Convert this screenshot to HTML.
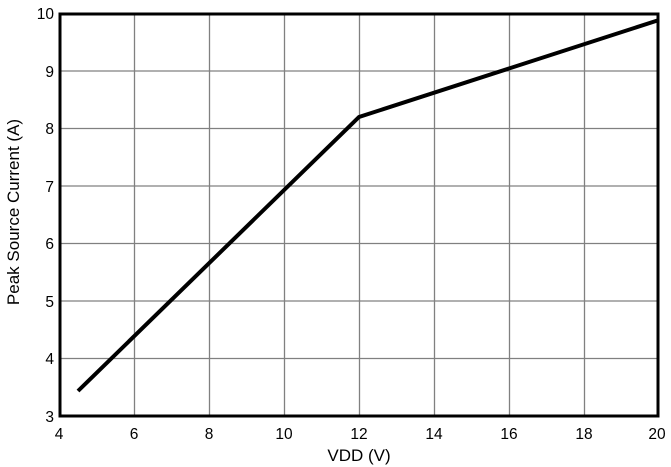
<!DOCTYPE html>
<html><head><style>body{margin:0;background:#fff}svg{display:block}</style></head><body>
<svg width="671" height="467" xmlns="http://www.w3.org/2000/svg" font-family="Liberation Sans, Arial, sans-serif" font-size="15.5">
<rect width="671" height="467" fill="#fff"/>
<g stroke="#808080" stroke-width="1.3">
<line x1="134.5" y1="13" x2="134.5" y2="416"/><line x1="209.5" y1="13" x2="209.5" y2="416"/>
<line x1="284.5" y1="13" x2="284.5" y2="416"/><line x1="359.5" y1="13" x2="359.5" y2="416"/>
<line x1="434.5" y1="13" x2="434.5" y2="416"/><line x1="509.5" y1="13" x2="509.5" y2="416"/>
<line x1="584.5" y1="13" x2="584.5" y2="416"/>
<line x1="59" y1="71" x2="659" y2="71"/><line x1="59" y1="128.5" x2="659" y2="128.5"/>
<line x1="59" y1="186" x2="659" y2="186"/><line x1="59" y1="243.5" x2="659" y2="243.5"/>
<line x1="59" y1="301" x2="659" y2="301"/><line x1="59" y1="358.5" x2="659" y2="358.5"/>
</g>
<rect x="60" y="14" width="598" height="402" fill="none" stroke="#000" stroke-width="3"/>
<polyline points="78,391 359,117 659,20" fill="none" stroke="#000" stroke-width="4" stroke-linejoin="miter"/>
<g text-anchor="end">
<text x="54" y="19">10</text><text x="54" y="77">9</text><text x="54" y="134">8</text>
<text x="54" y="192">7</text><text x="54" y="249">6</text><text x="54" y="307">5</text>
<text x="54" y="364">4</text><text x="54" y="422">3</text>
</g>
<g text-anchor="middle">
<text x="59" y="439">4</text><text x="134" y="439">6</text><text x="209" y="439">8</text>
<text x="284" y="439">10</text><text x="359" y="439">12</text><text x="434" y="439">14</text>
<text x="509" y="439">16</text><text x="584" y="439">18</text><text x="657" y="439">20</text>
<text x="359" y="461" font-size="17">VDD (V)</text>
<text transform="translate(19,212) rotate(-90)" font-size="17">Peak Source Current (A)</text>
</g>
</svg>
</body></html>
